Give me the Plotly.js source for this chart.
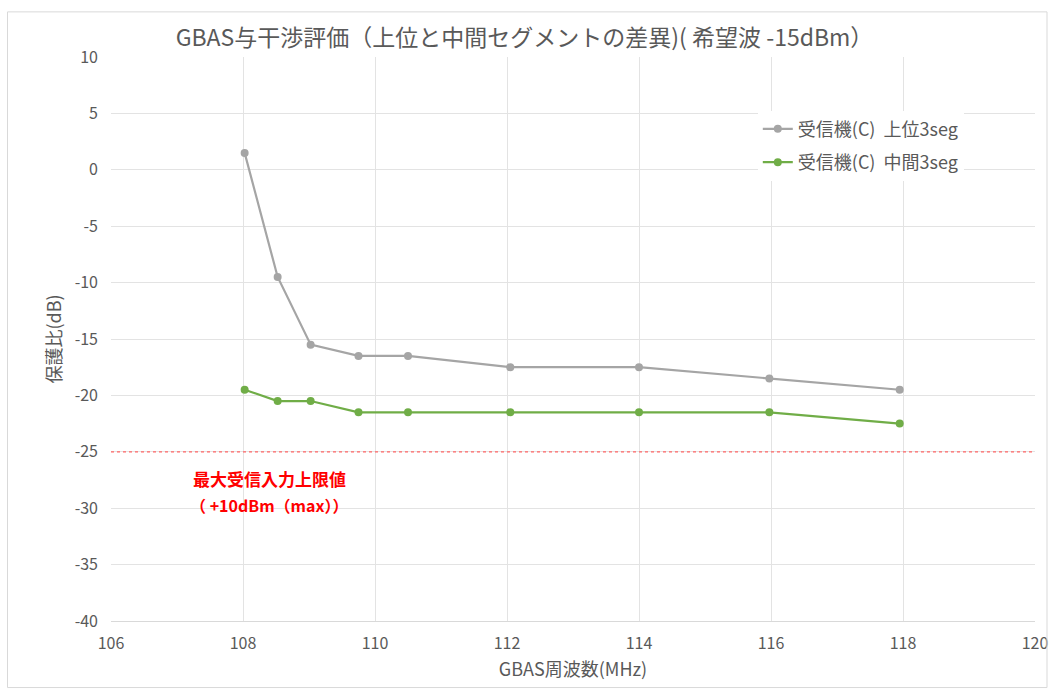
<!DOCTYPE html>
<html><head><meta charset="utf-8">
<script src="https://cdn.plot.ly/plotly-3.0.1.min.js"></script>
<style>html,body{margin:0;padding:0;background:#fff;}#chart{width:1049px;height:691px;}</style>
</head><body><div id="chart"></div>
<script>
const freq = [108.025, 108.525, 109.025, 109.75, 110.5, 112.05, 114.0, 115.975, 117.95];
const upper3seg = [1.5, -9.5, -15.5, -16.5, -16.5, -17.5, -17.5, -18.5, -19.5];
const middle3seg = [-19.5, -20.5, -20.5, -21.5, -21.5, -21.5, -21.5, -21.5, -22.5];
const seriesNames = ['受信機(C)  上位3seg', '受信機(C)  中間3seg'];
const yTickVals = [10, 5, 0, -5, -10, -15, -20, -25, -30, -35, -40];
const yTickText = ['10', '5', '0', '-5', '-10', '-15', '-20', '-25', '-30', '-35', '-40'];
const limitValue = -25;
const limitLabel = ['最大受信入力上限値', '（ +10dBm（max））'];

const font = "'Noto Sans CJK JP', 'Noto Sans', sans-serif";
const traces = [
  {x: freq, y: upper3seg, name: seriesNames[0], mode: 'lines+markers', legendgroup: 'a',
   line: {color: '#a5a5a5', width: 2.2}, marker: {color: '#a5a5a5', size: 8}},
  {x: freq, y: middle3seg, name: seriesNames[1], mode: 'lines+markers', legendgroup: 'b',
   line: {color: '#70ad47', width: 2.2}, marker: {color: '#70ad47', size: 8}}
];
const layout = {
  width: 1049, height: 691,
  margin: {l: 111, r: 14, t: 57, b: 70},
  paper_bgcolor: '#fff', plot_bgcolor: '#fff',
  font: {family: font, color: '#595959', size: 15},
  title: {text: 'GBAS与干渉評価（上位と中間セグメントの差異)( 希望波 -15dBm）', x: 0.5, xanchor: 'center', y: 0.945, yanchor: 'middle',
          font: {family: font, size: 23, color: '#595959'}},
  xaxis: {range: [106, 120], dtick: 2, tick0: 106, showgrid: true, gridcolor: '#e3e3e3', zeroline: false,
          showline: true, linecolor: '#d9d9d9', ticks: '', ticklabelstandoff: 8,
          title: {text: 'GBAS周波数(MHz)', font: {size: 18, color: '#595959'}, standoff: 10},
          tickfont: {size: 16, color: '#595959'}},
  yaxis: {range: [-40, 10], tickvals: yTickVals, ticktext: yTickText, showgrid: true, gridcolor: '#e3e3e3', zeroline: false,
          showline: false, ticks: '', ticklabelstandoff: 12,
          title: {text: '保護比(dB)', font: {size: 18, color: '#595959'}, standoff: 8},
          tickfont: {size: 16, color: '#595959'}},
  legend: {x: 0.7, y: 0.905, xanchor: 'left', yanchor: 'top', bgcolor: '#fff',
           font: {size: 18, color: '#595959'}, tracegroupgap: 7},
  showlegend: true,
  shapes: [
    {type: 'line', xref: 'paper', x0: 0, x1: 1, yref: 'y', y0: limitValue, y1: limitValue,
     line: {color: '#ff6666', width: 1.2, dash: 'dot'}},
    {type: 'rect', xref: 'paper', yref: 'paper', x0: -0.112, x1: 1.013, y0: -0.118, y1: 1.08,
     line: {color: '#d9d9d9', width: 1}, fillcolor: 'rgba(0,0,0,0)'}
  ],
  annotations: [
    {xref: 'x', yref: 'y', x: 108.4, y: -27.4, text: '<b>' + limitLabel[0] + '</b>', showarrow: false,
     font: {size: 17, color: '#ff0000', family: font}},
    {xref: 'x', yref: 'y', x: 108.4, y: -29.7, text: '<b>' + limitLabel[1] + '</b>', showarrow: false,
     font: {size: 16, color: '#ff0000', family: font}}
  ]
};
Plotly.newPlot('chart', traces, layout, {displayModeBar: false, staticPlot: true});
</script></body></html>
